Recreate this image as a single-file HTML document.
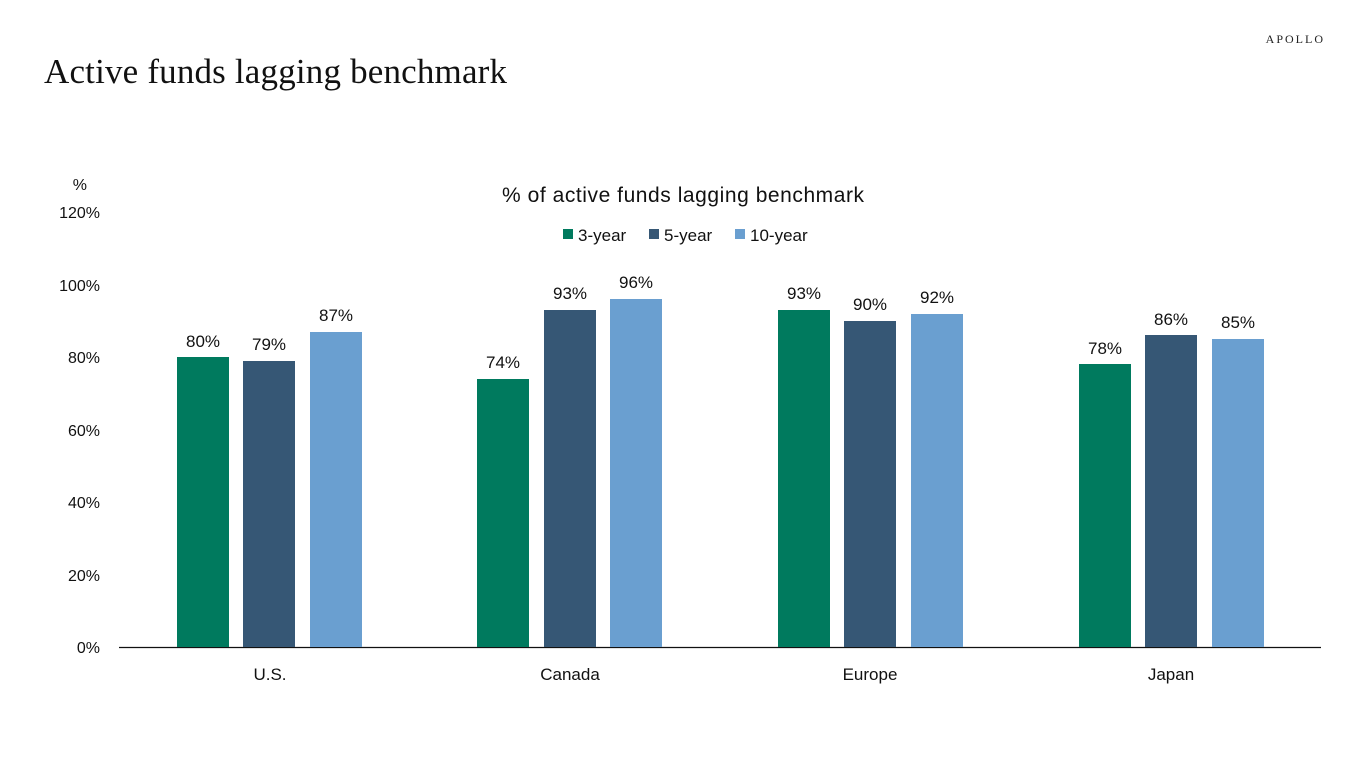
<!DOCTYPE html>
<html><head><meta charset="utf-8"><style>
body{margin:0;background:#fff;}
svg{display:block;}
</style></head><body>
<svg width="1366" height="768" viewBox="0 0 1366 768" xmlns="http://www.w3.org/2000/svg">
<rect width="1366" height="768" fill="#fff"/>
<text x="44" y="83" font-family="Liberation Serif, serif" font-size="35" fill="#111" textLength="463">Active funds lagging benchmark</text>
<text x="1325" y="43" text-anchor="end" font-family="Liberation Serif, serif" font-size="12" letter-spacing="2" fill="#222">APOLLO</text>
<text x="683" y="202" text-anchor="middle" font-family="Liberation Sans, sans-serif" font-size="21" fill="#111" textLength="362">% of active funds lagging benchmark</text>
<g font-family="Liberation Sans, sans-serif" font-size="17" fill="#111">
<rect x="563" y="229" width="10" height="10" fill="#007A5E"/><text x="578" y="241">3-year</text>
<rect x="649" y="229" width="10" height="10" fill="#365775"/><text x="664" y="241">5-year</text>
<rect x="735" y="229" width="10" height="10" fill="#6A9FD0"/><text x="750" y="241">10-year</text>
</g>
<g font-family="Liberation Sans, sans-serif" font-size="16" fill="#111" text-anchor="end">
<text x="87" y="190">%</text>
<text x="100" y="218">120%</text>
<text x="100" y="291">100%</text>
<text x="100" y="363">80%</text>
<text x="100" y="436">60%</text>
<text x="100" y="508">40%</text>
<text x="100" y="581">20%</text>
<text x="100" y="653">0%</text>
</g>
<line x1="119" y1="647.5" x2="1321" y2="647.5" stroke="#111" stroke-width="1.3"/>
<g font-family="Liberation Sans, sans-serif" font-size="17" fill="#111" text-anchor="middle">
<rect x="177" y="357" width="52" height="290" fill="#007A5E"/><text x="203" y="347">80%</text>
<rect x="243" y="361" width="52" height="286" fill="#365775"/><text x="269" y="350">79%</text>
<rect x="310" y="332" width="52" height="315" fill="#6A9FD0"/><text x="336" y="321">87%</text>
<rect x="477" y="379" width="52" height="268" fill="#007A5E"/><text x="503" y="368">74%</text>
<rect x="544" y="310" width="52" height="337" fill="#365775"/><text x="570" y="299">93%</text>
<rect x="610" y="299" width="52" height="348" fill="#6A9FD0"/><text x="636" y="288">96%</text>
<rect x="778" y="310" width="52" height="337" fill="#007A5E"/><text x="804" y="299">93%</text>
<rect x="844" y="321" width="52" height="326" fill="#365775"/><text x="870" y="310">90%</text>
<rect x="911" y="314" width="52" height="333" fill="#6A9FD0"/><text x="937" y="303">92%</text>
<rect x="1079" y="364" width="52" height="283" fill="#007A5E"/><text x="1105" y="354">78%</text>
<rect x="1145" y="335" width="52" height="312" fill="#365775"/><text x="1171" y="325">86%</text>
<rect x="1212" y="339" width="52" height="308" fill="#6A9FD0"/><text x="1238" y="328">85%</text>
</g>
<g font-family="Liberation Sans, sans-serif" font-size="17" fill="#111" text-anchor="middle">
<text x="270" y="680">U.S.</text>
<text x="570" y="680">Canada</text>
<text x="870" y="680">Europe</text>
<text x="1171" y="680">Japan</text>
</g>
</svg>
</body></html>
